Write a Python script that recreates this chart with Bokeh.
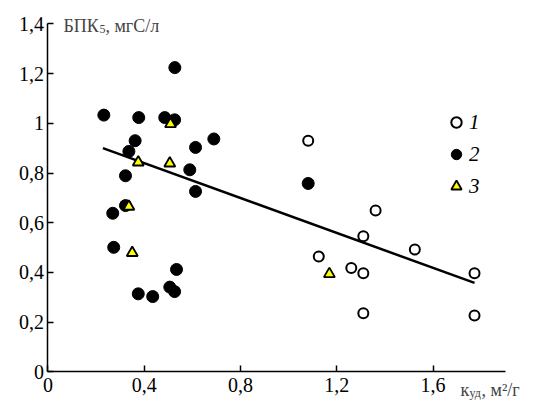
from bokeh.plotting import figure
from bokeh.models import (Range1d, FixedTicker, CustomJSTickFormatter, Label,
                          Legend, LegendItem, LinearAxis)
from bokeh.embed import file_html
from bokeh.resources import INLINE

# ---- data ----
# series 1: open circles
s1_x = [1.081, 1.361, 1.310, 1.524, 1.125, 1.260, 1.310, 1.310, 1.772, 1.772]
s1_y = [0.930, 0.649, 0.546, 0.492, 0.464, 0.418, 0.397, 0.236, 0.397, 0.227]
# series 2: filled circles
s2_x = [0.232, 0.377, 0.485, 0.526, 0.527, 0.362, 0.336, 0.322, 0.322, 0.269,
        0.273, 0.375, 0.435, 0.506, 0.526, 0.534, 0.613, 0.589, 0.613, 0.689, 1.081]
s2_y = [1.033, 1.023, 1.023, 1.014, 1.224, 0.930, 0.887, 0.789, 0.669, 0.638,
        0.501, 0.314, 0.303, 0.341, 0.323, 0.412, 0.903, 0.813, 0.726, 0.937, 0.758]
# series 3: yellow triangles
s3_x = [0.509, 0.375, 0.506, 0.336, 0.350, 1.169]
s3_y = [0.997, 0.843, 0.839, 0.665, 0.479, 0.394]
# regression line end points
trend_x = [0.228, 1.772]
trend_y = [0.900, 0.358]

x_ticks = [0, 0.4, 0.8, 1.2, 1.6]
y_ticks = [0, 0.2, 0.4, 0.6, 0.8, 1.0, 1.2, 1.4]
x_axis_end = 1.9
y_axis_end = 1.4
legend_labels = ["1", "2", "3"]

FONT = "Liberation Serif"

# The frame fills the whole canvas; the axes sit at x=0 / y=0 so that the
# axis titles (drawn as labels) are not clipped by the frame.
p = figure(width=533, height=401,
           x_range=Range1d(-0.1973, 2.017), y_range=Range1d(-0.1191, 1.494),
           output_backend="svg", toolbar_location=None,
           x_axis_location=None, y_axis_location=None,
           min_border=0, min_border_left=0, min_border_right=0,
           min_border_top=0, min_border_bottom=0)
p.xgrid.visible = False
p.ygrid.visible = False
p.outline_line_color = None
p.background_fill_color = "white"
p.border_fill_color = "white"

fmt = CustomJSTickFormatter(code="""
const t = Math.round(tick * 10) / 10;
if (Math.abs(t - Math.round(t)) < 1e-9) { return Math.round(t).toString(); }
return t.toFixed(1).replace('.', ',');
""")

xaxis = LinearAxis(fixed_location=0, bounds=(0, x_axis_end))
yaxis = LinearAxis(fixed_location=0, bounds=(0, y_axis_end))
for ax, ticks in ((xaxis, x_ticks), (yaxis, y_ticks)):
    ax.ticker = FixedTicker(ticks=ticks)
    ax.formatter = fmt
    ax.major_tick_in = 6
    ax.major_tick_out = 0
    ax.minor_tick_line_color = None
    ax.axis_line_width = 1.5
    ax.major_tick_line_width = 1.5
    ax.axis_line_color = "black"
    ax.major_tick_line_color = "black"
    ax.major_label_text_font = FONT
    ax.major_label_text_font_size = "20px"
    ax.major_label_text_color = "black"
xaxis.major_label_standoff = 6
yaxis.major_label_standoff = 4
p.add_layout(xaxis, "below")
p.add_layout(yaxis, "left")

r_line = p.line(trend_x, trend_y, line_color="black", line_width=2.5)
r2 = p.scatter(s2_x, s2_y, marker="circle", size=12, fill_color="black",
               line_color="black", line_width=1)
r1 = p.scatter(s1_x, s1_y, marker="circle", size=10, fill_color="white",
               line_color="black", line_width=2)
r3 = p.scatter(s3_x, s3_y, marker="triangle", size=11, fill_color="#ffff00",
               line_color="black", line_width=1.8)

legend = Legend(items=[LegendItem(label=legend_labels[0], renderers=[r1]),
                       LegendItem(label=legend_labels[1], renderers=[r2]),
                       LegendItem(label=legend_labels[2], renderers=[r3])],
                location=(433, 192), glyph_width=26, glyph_height=26,
                label_height=26, spacing=6, padding=10, margin=0,
                label_standoff=0, background_fill_alpha=0, border_line_alpha=0,
                label_text_font=FONT, label_text_font_style="italic",
                label_text_font_size="21px", label_text_color="black")
p.add_layout(legend)

# axis titles
p.add_layout(Label(x=0.064, y=1.391, text="БПК", text_font=FONT,
                   text_font_size="18px", text_baseline="alphabetic"))
p.add_layout(Label(x=0.064, y=1.391, x_offset=36, y_offset=-3, text="5",
                   text_font=FONT, text_font_size="12px", text_baseline="alphabetic"))
p.add_layout(Label(x=0.064, y=1.391, x_offset=42, text=", мгС/л", text_font=FONT,
                   text_font_size="18px", text_baseline="alphabetic"))

p.add_layout(Label(x=1.714, y=-0.071, text="к", text_font=FONT,
                   text_font_size="18px", text_baseline="alphabetic"))
p.add_layout(Label(x=1.714, y=-0.071, x_offset=9, y_offset=-3, text="уд",
                   text_font=FONT, text_font_size="12px", text_baseline="alphabetic"))
p.add_layout(Label(x=1.714, y=-0.071, x_offset=21, text=", м²/г", text_font=FONT,
                   text_font_size="18px", text_baseline="alphabetic"))

open("out.html", "w").write(file_html(p, INLINE))
